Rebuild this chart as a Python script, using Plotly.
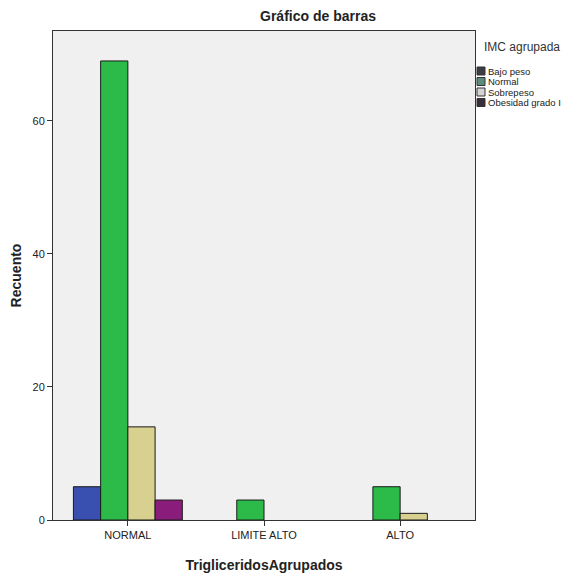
import plotly.graph_objects as go

categories = ["NORMAL", "LIMITE ALTO", "ALTO"]
series_names = ["Bajo peso", "Normal", "Sobrepeso", "Obesidad grado I"]
# None = category not shown in that group
bajo_peso = [5, None, None]
normal = [69, 3, 5]
sobrepeso = [14, 0, 1]
obesidad = [3, None, None]
series_values = [bajo_peso, normal, sobrepeso, obesidad]
y_ticks = [0, 20, 40, 60]

bar_colors = ["#3a50b0", "#2cbb48", "#d8d08e", "#8a1c7c"]
legend_colors = ["#3c3c46", "#5c8c7a", "#d4d4d4", "#3a2c3a"]

# page has an 8px body margin; compensate so the figure lines up with the window
OFF = 8
W, H = 579 - OFF, 582 - OFF
ML, MR, MT, MB = 53 - OFF, 104, 31 - OFF, 62
PW, PH = W - ML - MR, H - MT - MB


def px_x(px):
    return (px - OFF - ML) / PW


def px_y(py):
    return (H - MB - (py - OFF)) / PH


bar_w = 0.2
fig = go.Figure()

# compute per-group offsets from which series are present in each group
offsets = [[None] * len(categories) for _ in series_values]
for gi in range(len(categories)):
    present = [si for si, s in enumerate(series_values) if s[gi] is not None]
    n = len(present)
    for k, si in enumerate(present):
        offsets[si][gi] = -n * bar_w / 2 + k * bar_w

for si, name in enumerate(series_names):
    xs, ys, offs, lw = [], [], [], []
    for gi, c in enumerate(categories):
        v = series_values[si][gi]
        if v is None:
            continue
        xs.append(c)
        ys.append(v)
        offs.append(offsets[si][gi])
        lw.append(1 if v > 0 else 0)
    fig.add_trace(go.Bar(
        x=xs, y=ys, offset=offs, width=[bar_w] * len(xs),
        marker=dict(color=bar_colors[si], line=dict(color="#1a1a1a", width=lw)),
        name=name, showlegend=False,
    ))

font_main = "Liberation Sans Narrow, Arial Narrow, Liberation Sans, Arial"

# legend (title, swatches, labels)
annotations = [dict(text="IMC agrupada", xref="paper", yref="paper",
                    x=px_x(482), y=px_y(47), xanchor="left", yanchor="middle",
                    showarrow=False, font=dict(size=12, color="#333333"))]
shapes = []
for si, name in enumerate(series_names):
    cy = 71 + si * 10.5
    shapes.append(dict(type="rect", xref="paper", yref="paper",
                       x0=px_x(477), x1=px_x(485), y0=px_y(cy - 4), y1=px_y(cy + 4),
                       fillcolor=legend_colors[si], line=dict(color="#333333", width=1)))
    annotations.append(dict(text=name, xref="paper", yref="paper",
                            x=px_x(487), y=px_y(cy), xanchor="left", yanchor="middle",
                            showarrow=False, borderpad=0,
                            font=dict(size=9.5, color="#222222")))

fig.update_layout(
    width=W, height=H,
    margin=dict(l=ML, r=MR, t=MT, b=MB, autoexpand=False),
    barmode="overlay",
    showlegend=False,
    paper_bgcolor="white",
    plot_bgcolor="#f0f0f0",
    font=dict(family=font_main, size=10, color="#222222"),
    title=dict(text="<b>Gráfico de barras</b>", x=px_x(318), xref="paper", xanchor="center",
               y=1, yref="container", yanchor="top", pad=dict(t=3),
               font=dict(family="Liberation Sans, Arial", size=14, color="#222222")),
    annotations=annotations,
    shapes=shapes,
    xaxis=dict(
        type="category", categoryorder="array", categoryarray=categories,
        range=[-0.55, 2.55],
        showline=True, linecolor="#333333", linewidth=1, mirror=True,
        ticks="outside", ticklen=5, tickcolor="#333333",
        showgrid=False,
        tickfont=dict(family=font_main, size=11, color="#222222"),
        title=dict(text="<b>TrigliceridosAgrupados</b>", standoff=19,
                   font=dict(family="Liberation Sans, Arial", size=14, color="#222222")),
    ),
    yaxis=dict(
        range=[0, 73.5], tickvals=y_ticks,
        showline=True, linecolor="#333333", linewidth=1, mirror=True,
        ticks="outside", ticklen=5, tickcolor="#333333",
        showgrid=False, zeroline=False,
        tickfont=dict(family=font_main, size=11, color="#222222"),
        title=dict(text="<b>Recuento</b>", standoff=16,
                   font=dict(family="Liberation Sans, Arial", size=14, color="#222222")),
    ),
)

fig.write_html("out.html")
